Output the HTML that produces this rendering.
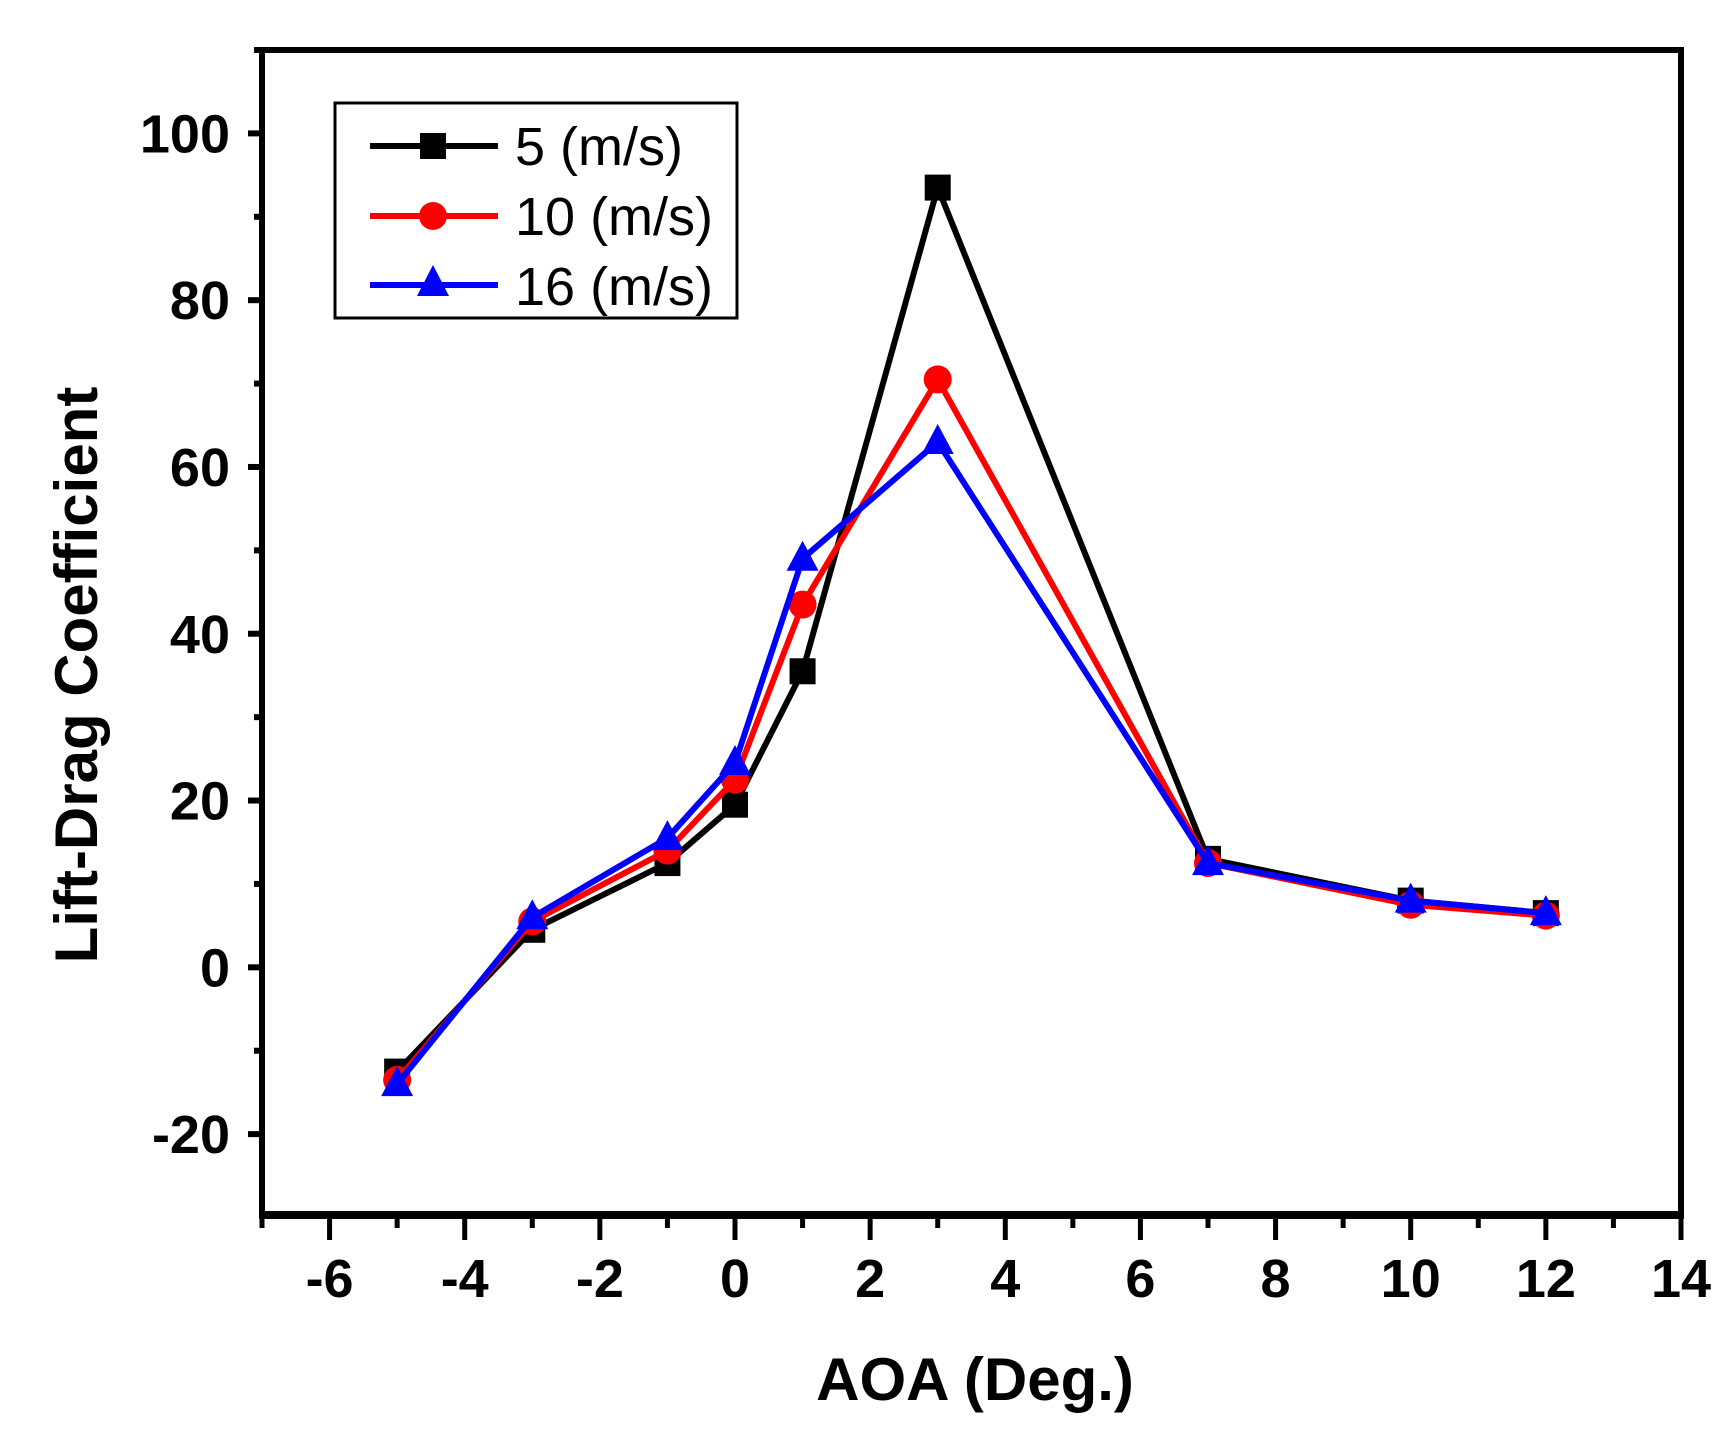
<!DOCTYPE html>
<html><head><meta charset="utf-8"><style>
html,body{margin:0;padding:0;background:#fff;}
svg{display:block;font-family:"Liberation Sans",Arial,sans-serif;}
</style></head><body>
<svg id="chart" width="1733" height="1432" viewBox="0 0 1733 1432" xmlns="http://www.w3.org/2000/svg">
<g id="axes"></g>
<g id="series"></g>
<g id="legend">
  <rect x="335" y="103" width="402" height="215" fill="#fff" stroke="#000" stroke-width="3"/>
  <g>
    <line x1="370" y1="146" x2="498" y2="146" stroke="#000" stroke-width="6"/>
    <rect x="420" y="133" width="26" height="26" fill="#000"/>
    <text x="515" y="165" font-size="54">5 (m/s)</text>
  </g>
  <g>
    <line x1="370" y1="216" x2="498" y2="216" stroke="#f00" stroke-width="6"/>
    <circle cx="433" cy="216" r="14" fill="#f00"/>
    <text x="515" y="235" font-size="54">10 (m/s)</text>
  </g>
  <g>
    <line x1="370" y1="285" x2="498" y2="285" stroke="#00f" stroke-width="6"/>
    <polygon points="433,265 417,296 449,296" fill="#00f"/>
    <text x="515" y="305" font-size="54">16 (m/s)</text>
  </g>
</g>
<text x="975" y="1400" font-size="60" font-weight="bold" text-anchor="middle">AOA (Deg.)</text>
<text transform="translate(97,675) rotate(-90)" font-size="60" font-weight="bold" text-anchor="middle">Lift-Drag Coefficient</text>
</svg>
<script>
const xCats = [-5, -3, -1, 0, 1, 3, 7, 10, 12];
const s5 = [-12.5, 4.5, 12.5, 19.5, 35.5, 93.5, 13, 8, 6.5];
const s10 = [-13.5, 5.5, 14, 22.5, 43.5, 70.5, 12.5, 7.5, 6.2];
const s16 = [-14, 6, 15.5, 24.5, 49, 63, 12.5, 8, 6.5];
const xTicks = [-6, -4, -2, 0, 2, 4, 6, 8, 10, 12, 14];
const yTicks = [-20, 0, 20, 40, 60, 80, 100];

const NS = "http://www.w3.org/2000/svg";
const X0 = 262, X1 = 1681, Y0 = 1215, Y1 = 50;
const xMin = -7, xMax = 14, yMin = -29.7, yMax = 110;
function sx(v){ return X0 + (v - xMin) / (xMax - xMin) * (X1 - X0); }
function sy(v){ return Y0 - (v - yMin) / (yMax - yMin) * (Y0 - Y1); }
function mk(tag, attrs, parent){ const e = document.createElementNS(NS, tag); for (const k in attrs) e.setAttribute(k, attrs[k]); parent.appendChild(e); return e; }

const axes = document.getElementById('axes');
const frame = mk('rect', {x:X0, y:Y1, width:X1-X0, height:Y0-Y1, fill:'none', stroke:'#000', 'stroke-width':6}, axes);


mk('line', {x1:X0-3, y1:Y0, x2:X1+3, y2:Y0, stroke:'#000', 'stroke-width':8}, axes);

for (let v = -7; v <= 14; v++) {
  const major = xTicks.includes(v);
  const t = mk('line', {x1:sx(v), y1:Y0, x2:sx(v), y2:Y0 + (major ? 25 : 13), stroke:'#000', 'stroke-width':5}, axes);
  
  
}
xTicks.forEach(v => {
  const t = mk('text', {x:sx(v), y:1297, 'font-size':54, 'font-weight':'bold', 'text-anchor':'middle'}, axes);
  t.textContent = v;
  
  
});
for (let v = -20; v <= 110; v += 10) {
  const major = yTicks.includes(v);
  const t = mk('line', {x1:X0, y1:sy(v), x2:X0 - (major ? 14 : 8), y2:sy(v), stroke:'#000', 'stroke-width':6}, axes);
  
  
}
yTicks.forEach(v => {
  const t = mk('text', {x:230, y:sy(v) + 19, 'font-size':54, 'font-weight':'bold', 'text-anchor':'end'}, axes);
  t.textContent = v;
  
  
});

const series = document.getElementById('series');
function drawSeries(vals, color, shape, name){
  const g = mk('g', {}, series);
  
  
  const pts = xCats.map((x,i) => sx(x) + ',' + sy(vals[i])).join(' ');
  mk('polyline', {points:pts, fill:'none', stroke:color, 'stroke-width':6, 'stroke-linejoin':'round'}, g);
  xCats.forEach((x,i) => {
    const cx = sx(x), cy = sy(vals[i]);
    let m;
    if (shape === 'square') m = mk('rect', {x:cx-13, y:cy-13, width:26, height:26, fill:color}, g);
    else if (shape === 'circle') m = mk('circle', {cx:cx, cy:cy, r:14, fill:color}, g);
    else m = mk('polygon', {points:`${cx},${cy-18} ${cx-16},${cy+12} ${cx+16},${cy+12}`, fill:color}, g);
    
    
  });
}
drawSeries(s5, '#000', 'square', 'series-5ms');
drawSeries(s10, '#f00', 'circle', 'series-10ms');
drawSeries(s16, '#00f', 'triangle', 'series-16ms');
</script>
</body></html>
